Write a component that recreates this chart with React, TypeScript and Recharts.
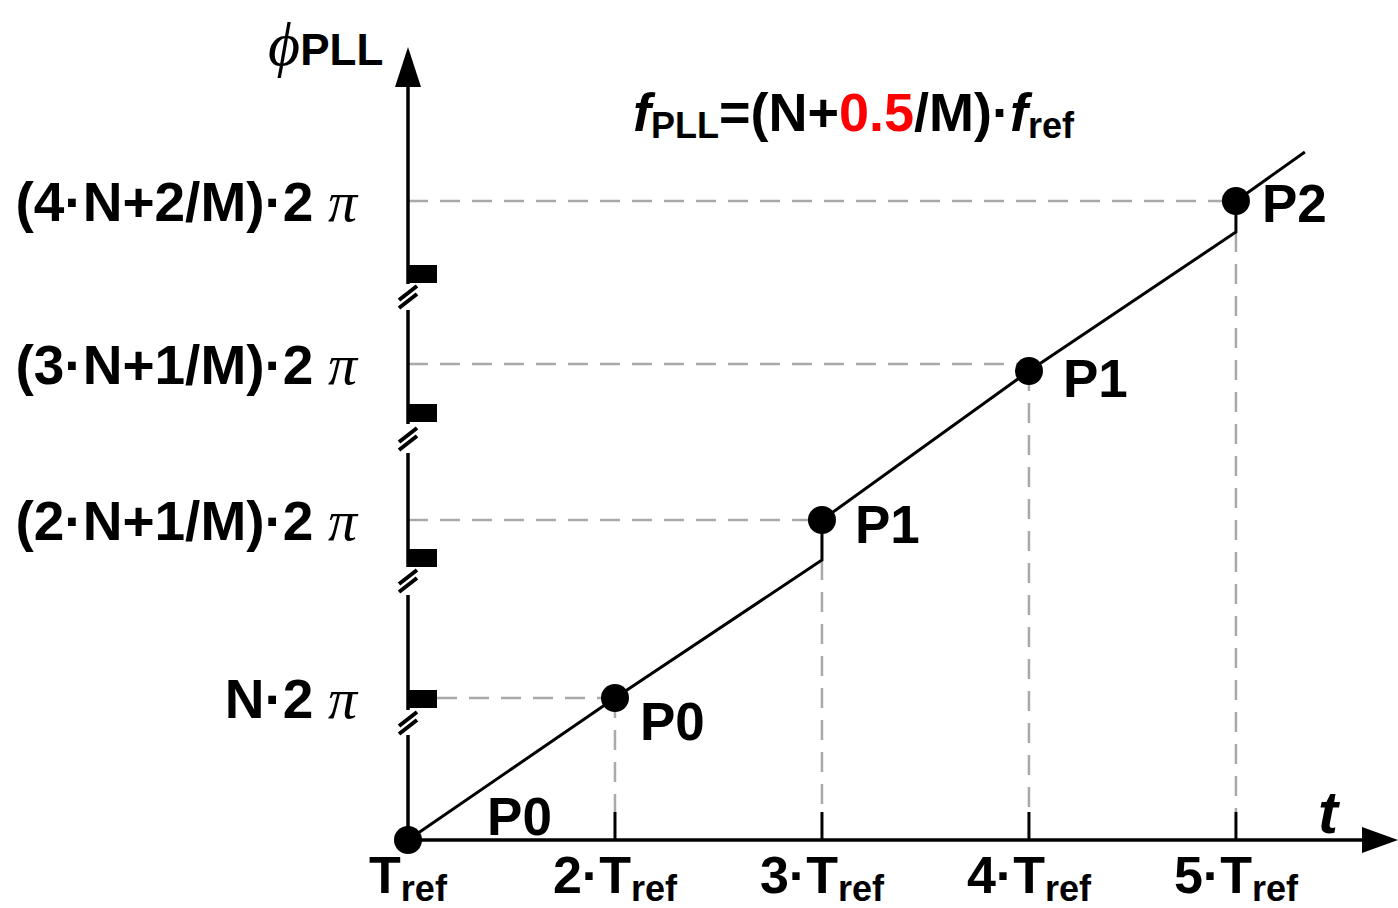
import {
  ComposedChart,
  Line,
  Scatter,
  XAxis,
  YAxis,
  ReferenceLine,
  ReferenceDot,
  ReferenceArea,
} from 'recharts';

// time in multiples of T_ref, phase in arbitrary units (broken axis)
const timeTicks = [1, 2, 3, 4, 5];
const timeTickPrefix = ['', '2·', '3·', '4·', '5·'];

const phaseTicks = [142, 320, 476, 639];
const phaseTickLabels = ['N·2', '(2·N+1/M)·2', '(3·N+1/M)·2', '(4·N+2/M)·2'];

// PLL phase trace (jumps at 3·T_ref and 5·T_ref)
const traceTime = [1, 2, 3, 3, 4, 5, 5, 5.333];
const tracePhase = [0, 142, 280, 320, 469, 608, 639, 688];

// sampled points
const sampleTime = [1, 2, 3, 4, 5];
const samplePhase = [0, 142, 320, 469, 639];
const sampleLabels = ['P0', 'P0', 'P1', 'P1', 'P2'];
const sampleLabelTime = [1.382, 2.121, 3.159, 4.164, 5.126];
const sampleLabelPhase = [5, 100, 297, 443, 618];

// phase of the trace where the vertical guide lines start
const dropPhase = [142, 280, 469, 608];

// broken y axis
const axisPieces = [
  [0, 105],
  [130, 245],
  [273, 387],
  [416, 530],
  [556, 753],
];
const breakMarks = [
  [132, 150],
  [273, 291],
  [418, 436],
  [557, 575],
];
const breakSlashes = [117, 259, 401, 543];

const T_MAX = 5.783;
const PHI_MAX = 800;
const MARK_END = 1.14;

const FONT = "'Liberation Sans', Arial, sans-serif";
const GRID = '#a9a9a9';

const traceData = traceTime.map((t, i) => ({ t, phi: tracePhase[i] }));
const sampleData = sampleTime.map((t, i) => ({ t, phi: samplePhase[i] }));

const TimeTick = (props: any) => {
  const { x, payload } = props;
  const i = timeTicks.indexOf(payload.value);
  return (
    <text x={x} y={893} textAnchor="middle" fontFamily={FONT} fontWeight="bold" fontSize={52} fill="#000">
      {timeTickPrefix[i]}T
      <tspan fontSize={36} dy={8}>ref</tspan>
    </text>
  );
};

const PhaseTick = (props: any) => {
  const { y, payload } = props;
  const i = phaseTicks.indexOf(payload.value);
  return (
    <text x={357} y={y + 20} textAnchor="end" fontFamily={FONT} fontWeight="bold" fontSize={55} fill="#000">
      {phaseTickLabels[i]}
      <tspan fontFamily="'Liberation Serif', serif" fontStyle="italic" fontWeight="normal" fontSize={58}>
        {' π'}
      </tspan>
    </text>
  );
};

const Dot = (props: any) => <circle cx={props.cx} cy={props.cy} r={14} fill="#000" />;

export default function App() {
  return (
    <div style={{ position: 'absolute', left: 0, top: 0, background: '#fff' }}>
      <ComposedChart width={1398} height={908} margin={{ top: 40, right: 0, bottom: 0, left: 0 }}>
        <XAxis
          dataKey="t"
          type="number"
          domain={[1, T_MAX]}
          ticks={timeTicks}
          height={68}
          axisLine={false}
          tickLine={false}
          tick={<TimeTick />}
        />
        <YAxis
          type="number"
          domain={[0, PHI_MAX]}
          ticks={phaseTicks}
          width={408}
          axisLine={false}
          tickLine={false}
          tick={<PhaseTick />}
        />

        {/* horizontal guides */}
        {phaseTicks.map((p, i) => (
          <ReferenceLine
            key={`h-${i}`}
            segment={[
              { x: breakMarks.some(([a, b]) => p >= a && p <= b) ? MARK_END : 1, y: p },
              { x: timeTicks[i + 1], y: p },
            ]}
            stroke={GRID}
            strokeWidth={2.5}
            strokeDasharray="20 12"
          />
        ))}
        {/* vertical guides */}
        {dropPhase.map((p, i) => (
          <ReferenceLine
            key={`v-${i}`}
            segment={[
              { x: timeTicks[i + 1], y: p },
              { x: timeTicks[i + 1], y: 28 },
            ]}
            stroke={GRID}
            strokeWidth={2.5}
            strokeDasharray="20 12"
          />
        ))}
        {/* x tick marks */}
        {timeTicks.slice(1).map((t) => (
          <ReferenceLine
            key={`tk-${t}`}
            segment={[
              { x: t, y: 0 },
              { x: t, y: 28 },
            ]}
            stroke="#000"
            strokeWidth={3}
          />
        ))}

        {/* axes */}
        <ReferenceLine
          segment={[
            { x: 1, y: 0 },
            { x: 5.62, y: 0 },
          ]}
          stroke="#000"
          strokeWidth={3.5}
        />
        {axisPieces.map(([a, b], i) => (
          <ReferenceLine
            key={`ax-${i}`}
            segment={[
              { x: 1, y: a },
              { x: 1, y: b },
            ]}
            stroke="#000"
            strokeWidth={3.5}
          />
        ))}
        {breakMarks.map(([a, b], i) => (
          <ReferenceArea key={`bm-${i}`} x1={1} x2={MARK_END} y1={a} y2={b} fill="#000" fillOpacity={1} stroke="none" />
        ))}
        {breakSlashes.map((p, i) => (
          <ReferenceDot
            key={`bs-${i}`}
            x={1}
            y={p}
            r={1}
            ifOverflow="visible"
            shape={(s: any) => (
              <g stroke="#000" strokeWidth={4} fill="none">
                <line x1={s.cx - 9} y1={s.cy + 11} x2={s.cx + 9} y2={s.cy - 3} />
                <line x1={s.cx - 9} y1={s.cy + 3} x2={s.cx + 9} y2={s.cy - 11} />
              </g>
            )}
          />
        ))}
        <ReferenceDot
          x={T_MAX}
          y={0}
          ifOverflow="visible"
          shape={(s: any) => (
            <polygon points={`${s.cx},${s.cy} ${s.cx - 36},${s.cy - 13} ${s.cx - 36},${s.cy + 13}`} fill="#000" />
          )}
        />
        <ReferenceDot
          x={1}
          y={793}
          ifOverflow="visible"
          shape={(s: any) => (
            <polygon points={`${s.cx},${s.cy} ${s.cx - 13},${s.cy + 40} ${s.cx + 13},${s.cy + 40}`} fill="#000" />
          )}
        />

        <Line
          data={traceData}
          dataKey="phi"
          type="linear"
          stroke="#000"
          strokeWidth={3}
          dot={false}
          isAnimationActive={false}
        />
        <Scatter data={sampleData} dataKey="phi" shape={<Dot />} isAnimationActive={false} />

        {/* point labels */}
        {sampleLabels.map((txt, i) => (
          <ReferenceDot
            key={`pl-${i}`}
            x={sampleLabelTime[i]}
            y={sampleLabelPhase[i]}
            ifOverflow="visible"
            shape={(s: any) => (
              <text x={s.cx} y={s.cy} fontFamily={FONT} fontWeight="bold" fontSize={53} fill="#000">
                {txt}
              </text>
            )}
          />
        ))}

        {/* formula */}
        <ReferenceDot
          x={2.087}
          y={709}
          ifOverflow="visible"
          shape={(s: any) => (
            <text x={s.cx} y={s.cy} fontFamily={FONT} fontWeight="bold" fontSize={54} fill="#000">
              <tspan fontStyle="italic">f</tspan>
              <tspan fontSize={36} dy={7}>PLL</tspan>
              <tspan dy={-7}>=(N+</tspan>
              <tspan fill="#ff0000">0.5</tspan>
              <tspan>/M)·</tspan>
              <tspan fontStyle="italic">f</tspan>
              <tspan fontSize={36} dy={7}>ref</tspan>
            </text>
          )}
        />
        {/* axis titles */}
        <ReferenceDot
          x={0.324}
          y={775}
          ifOverflow="visible"
          shape={(s: any) => (
            <text x={s.cx} y={s.cy} fontFamily={FONT} fill="#000">
              <tspan fontFamily="'Liberation Serif', serif" fontStyle="italic" fontSize={62}>ϕ</tspan>
              <tspan fontWeight="bold" fontSize={44}>PLL</tspan>
            </text>
          )}
        />
        <ReferenceDot
          x={5.396}
          y={7}
          ifOverflow="visible"
          shape={(s: any) => (
            <text x={s.cx} y={s.cy} fontFamily={FONT} fontWeight="bold" fontStyle="italic" fontSize={60} fill="#000">
              t
            </text>
          )}
        />
      </ComposedChart>
    </div>
  );
}
